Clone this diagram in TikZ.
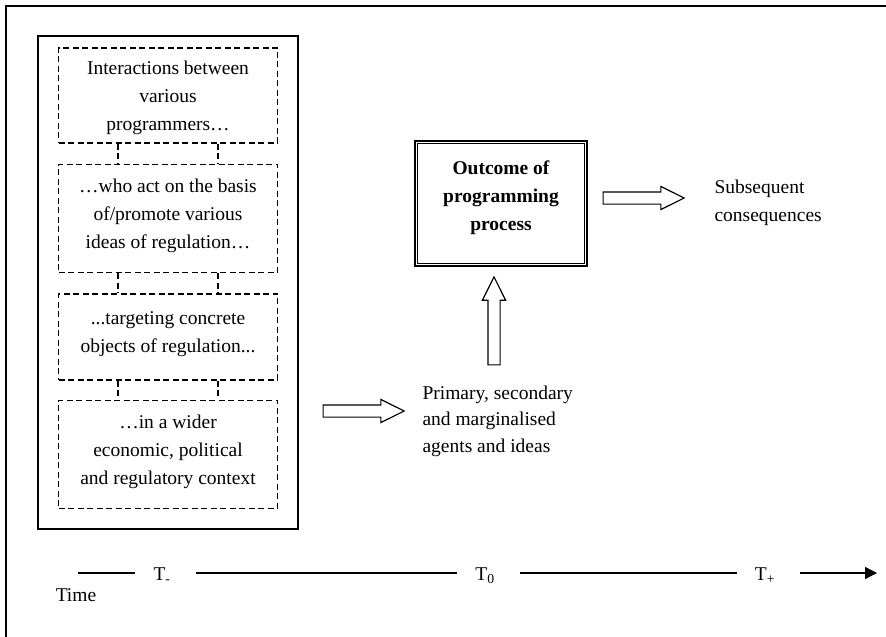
\documentclass[tikz,border=0pt]{standalone}
\usepackage{fontspec}
\setmainfont{Liberation Serif}
\usetikzlibrary{
    arrows.meta,
    positioning,
    shapes.arrows
}

\begin{document}
\begin{tikzpicture}[x=1pt,y=-1pt,
    every node/.style={font=\fontsize{19.5}{28}\selectfont},
    stagebox/.style={draw,line width=1.5pt,dash pattern=on 6pt off 3.5pt,
        minimum width=219pt,align=center,inner sep=0pt,text depth=9pt},
    link/.style={line width=1.5pt,dash pattern=on 6pt off 3.5pt},
    outcomebox/.style={draw,line width=2.6pt,align=center,text depth=16pt,
        font=\fontsize{19.5}{28}\selectfont\bfseries},
    hollow/.style={single arrow,draw,line width=1.2pt,inner sep=5.5pt,
        single arrow head extend=5.5pt,single arrow tip angle=53,
        minimum height=#1},
    tmark/.style={anchor=base,inner sep=0pt},
    timeline/.style={line width=1.2pt}
]
    \useasboundingbox (0,0) rectangle (886,637);
    % page frame
    \draw[line width=2pt] (6,637) -- (6,6) -- (886,6);

    % the programming process
    \node[draw,line width=1.6pt,minimum width=260pt,minimum height=493pt] (process) at (168,282.5) {};
    \node[stagebox,minimum height=95pt,text depth=-12pt,below=12pt of process.north] (inter)
        {Interactions between\\various\\programmers…};
    \node[stagebox,minimum height=108pt,below=20pt of inter] (ideas)
        {…who act on the basis\\of/promote various\\ideas of regulation…};
    \node[stagebox,minimum height=86pt,below=20pt of ideas] (objects)
        {...targeting concrete\\objects of regulation...};
    \node[stagebox,minimum height=108pt,below=19pt of objects] (context)
        {…in a wider\\economic, political\\and regulatory context};
    \foreach \a/\b in {inter/ideas,ideas/objects,objects/context}
        \foreach \dx in {-50,50}
            \draw[link] ([xshift=\dx pt]\a.south) -- ([xshift=\dx pt]\b.north);

    % outcome and consequences
    \node[outcomebox,minimum width=172pt,minimum height=125pt] (outcome) at (501,203.5)
        {Outcome of\\programming\\process};
    \draw[line width=1.3pt] ([shift={(4pt,-4pt)}]outcome.north west)
        rectangle ([shift={(-4pt,4pt)}]outcome.south east);
    \node[hollow=81pt] (toconseq) at (637.5,198) {};
    \node[anchor=west,align=left] (conseq) at (711,203) {Subsequent\\consequences};

    \node[hollow=81pt] (toagents) at (357.5,411) {};
    \node[anchor=west,align=left,font=\fontsize{19.5}{26.5}\selectfont] (agents) at (419,421)
        {Primary, secondary\\and marginalised\\agents and ideas};
    \node[hollow=88pt,shape border rotate=90] (tooutcome) at (494,327) {};

    % time axis
    \coordinate (tstart) at (78,573);
    \coordinate (tend) at (877,573);
    \node[tmark] (tminus) at (162,580) {T\textsubscript{-}};
    \node[tmark] (tzero) at (485,580) {T\textsubscript{0}};
    \node[tmark] (tplus) at (765,580) {T\textsubscript{+}};
    \node (time) at (76,595) {Time};
    \draw[timeline,shorten >=18pt] (tstart) -- (tstart -| tminus.west);
    \draw[timeline,shorten <=25pt,shorten >=18pt] (tstart -| tminus.east) -- (tstart -| tzero.west);
    \draw[timeline,shorten <=25pt,shorten >=18pt] (tstart -| tzero.east) -- (tstart -| tplus.west);
    \draw[timeline,shorten <=25pt,-{Triangle[length=12pt,width=12pt]}] (tstart -| tplus.east) -- (tend);
\end{tikzpicture}
\end{document}
